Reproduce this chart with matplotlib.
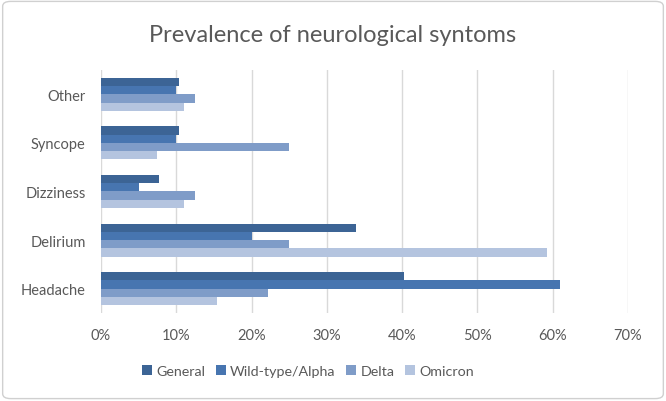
import matplotlib.pyplot as plt
import numpy as np
from matplotlib.patches import FancyBboxPatch
from matplotlib.ticker import PercentFormatter

# categories listed bottom to top, as drawn
categories = ["Headache", "Delirium", "Dizziness", "Syncope", "Other"]
series_names = ["General", "Wild-type/Alpha", "Delta", "Omicron"]
general = [40.3, 33.8, 7.7, 10.4, 10.4]
wild_alpha = [61.0, 20.0, 5.0, 10.0, 10.0]
delta = [22.2, 25.0, 12.5, 25.0, 12.5]
omicron = [15.4, 59.3, 11.0, 7.4, 11.0]
colors = ["#3c6495", "#4775b0", "#7f9cc8", "#b4c4df"]

plt.rcParams["font.family"] = ["Lato", "DejaVu Sans"]
text_color = "#595959"

fig = plt.figure(figsize=(6.66, 4.02), dpi=100)
border = FancyBboxPatch((0.004, 0.006), 0.992, 0.988, boxstyle="round,pad=0,rounding_size=0.012",
                        transform=fig.transFigure, facecolor="none", edgecolor="#d0d0d0", linewidth=1)
fig.patches.append(border)

ax = fig.add_axes([0.1517, 0.2189, 0.7913, 0.6045])
y = np.arange(len(categories))
bar_h = 0.17
offsets = [1.5, 0.5, -0.5, -1.5]
for vals, name, col, off in zip([general, wild_alpha, delta, omicron], series_names, colors, offsets):
    ax.barh(y + off * bar_h, np.array(vals) / 100, height=bar_h, color=col, label=name, zorder=3)

ax.set_xlim(0, 0.7)
ax.set_ylim(-0.5, len(categories) - 0.5)
ax.set_xticks(np.arange(0, 0.71, 0.1))
ax.xaxis.set_major_formatter(PercentFormatter(1.0, decimals=0))
ax.set_yticks(y)
ax.set_yticklabels(categories)
ax.grid(axis="x", color="#d9d9d9", linewidth=1, zorder=0)
for s in ax.spines.values():
    s.set_visible(False)
ax.tick_params(axis="both", length=0, colors=text_color, labelsize=10.5)
ax.tick_params(axis="x", pad=11)
ax.tick_params(axis="y", pad=11)

fig.text(0.5, 0.912, "Prevalence of neurological syntoms", ha="center", va="center",
         fontsize=17, color=text_color)

fig.legend(loc="center", bbox_to_anchor=(308 / 666, 1 - 372 / 402), ncol=4, frameon=False,
           fontsize=10.3, handlelength=0.7, handleheight=0.7, handletextpad=0.3,
           columnspacing=0.75, labelcolor=text_color)

fig.savefig("out.png", dpi=100)
